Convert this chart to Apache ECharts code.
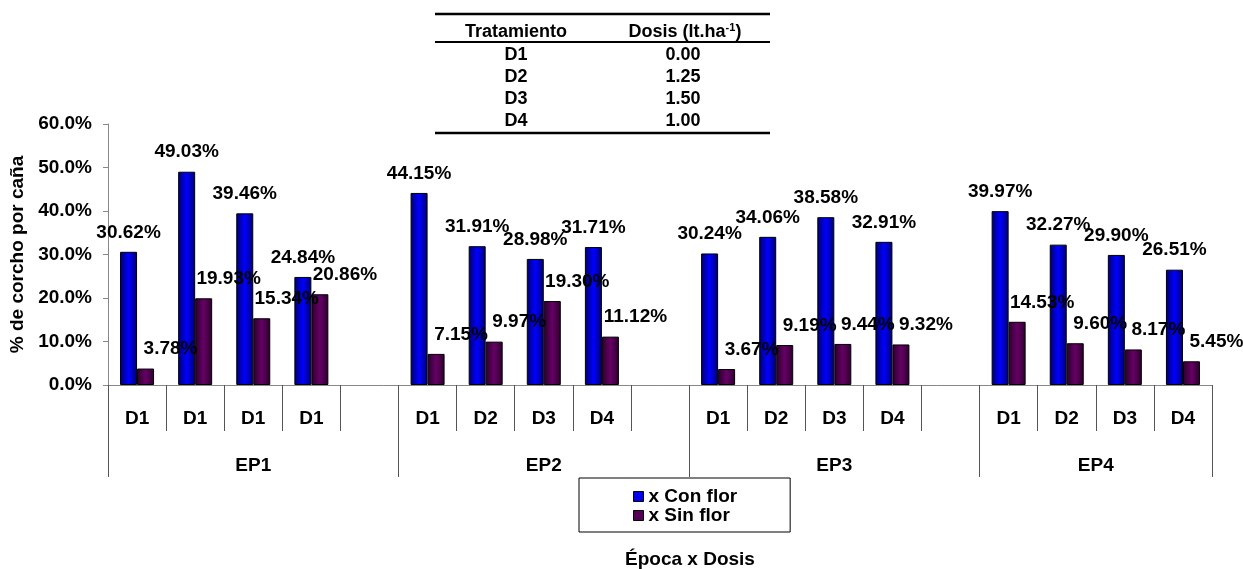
<!DOCTYPE html>
<html>
<head>
<meta charset="utf-8">
<script src="https://cdn.jsdelivr.net/npm/echarts@6/dist/echarts.min.js"></script>
<style>
html,body{margin:0;padding:0;background:#fff;}
#chart{width:1243px;height:569px;}
</style>
</head>
<body>
<div id="chart"></div>
<script>
// ---- data ----
var categories = ['D1','D1','D1','D1','', 'D1','D2','D3','D4','', 'D1','D2','D3','D4','', 'D1','D2','D3','D4'];
var groupNames = ['EP1','EP2','EP3','EP4'];
var groupSizes = [5, 5, 5, 4];
var conFlor = [30.62, 49.03, 39.46, 24.84, null, 44.15, 31.91, 28.98, 31.71, null, 30.24, 34.06, 38.58, 32.91, null, 39.97, 32.27, 29.90, 26.51];
var sinFlor = [3.78, 19.93, 15.34, 20.86, null, 7.15, 9.97, 19.30, 11.12, null, 3.67, 9.19, 9.44, 9.32, null, 14.53, 9.60, 8.17, 5.45];
var seriesNames = ['x Con flor', 'x Sin flor'];
var yTicks = [0, 10, 20, 30, 40, 50, 60];
var tableTreatments = ['D1','D2','D3','D4'];
var tableDoses = ['0.00','1.25','1.50','1.00'];

var FONT = 'Liberation Sans, Arial, sans-serif';

// group boundaries / centres (in slot units) for the second-level axis
var groupBounds = [0];
groupSizes.forEach(function (s) { groupBounds.push(groupBounds[groupBounds.length - 1] + s); });
var groupCenters = groupSizes.map(function (s, i) { return groupBounds[i] + s / 2; });

function grad(edge, mid) {
  return new echarts.graphic.LinearGradient(0, 0, 1, 0, [
    {offset: 0, color: edge}, {offset: 0.5, color: mid}, {offset: 1, color: edge}
  ]);
}

var chart = echarts.init(document.getElementById('chart'), null, {renderer: 'canvas'});

// table graphics
var tbl = [];
var colX = [516, 685];
var rowY0 = 55, rowStep = 22;
var TF = 'bold 18px ' + FONT;
tbl.push({type: 'line', shape: {x1: 435, y1: 14, x2: 770, y2: 14}, style: {stroke: '#000', lineWidth: 2.5}});
tbl.push({type: 'line', shape: {x1: 435, y1: 42, x2: 770, y2: 42}, style: {stroke: '#000', lineWidth: 2}});
tbl.push({type: 'line', shape: {x1: 435, y1: 133, x2: 770, y2: 133}, style: {stroke: '#000', lineWidth: 2.5}});
tbl.push({type: 'text', x: colX[0], y: 32, style: {text: 'Tratamiento', font: TF, fill: '#000', textAlign: 'center', textVerticalAlign: 'middle'}});
tbl.push({type: 'text', x: colX[1], y: 32, style: {
  text: '{a|Dosis (lt.ha}{s|-1}{a|)}', textAlign: 'center', textVerticalAlign: 'middle', fill: '#000',
  rich: {a: {font: TF, fill: '#000'}, s: {font: 'bold 11px ' + FONT, fill: '#000', padding: [0, 0, 9, 0]}}
}});
tableTreatments.forEach(function (t, i) {
  tbl.push({type: 'text', x: colX[0], y: rowY0 + i * rowStep, style: {text: t, font: TF, fill: '#000', textAlign: 'center', textVerticalAlign: 'middle'}});
  tbl.push({type: 'text', x: colX[1] - 2, y: rowY0 + i * rowStep, style: {text: tableDoses[i], font: TF, fill: '#000', textAlign: 'center', textVerticalAlign: 'middle'}});
});
tbl.push({type: 'text', x: 690, y: 560, style: {text: 'Época x Dosis', font: 'bold 19px ' + FONT, fill: '#000', textAlign: 'center', textVerticalAlign: 'middle'}});

var labelBase = {show: true, position: 'top', fontFamily: FONT, fontWeight: 'bold', fontSize: 19, color: '#000',
  formatter: function (p) { return p.value == null ? '' : p.value.toFixed(2) + '%'; }};

var option = {
  backgroundColor: '#fff',
  animation: false,
  grid: {left: 108, right: 31, top: 124, bottom: 184, containLabel: false},
  legend: {
    orient: 'vertical', left: 579, top: 478,
    backgroundColor: '#fff', borderColor: '#000', borderWidth: 1,
    padding: [9, 53, 7, 54], itemGap: 0, itemWidth: 10, itemHeight: 10,
    textStyle: {fontFamily: FONT, fontWeight: 'bold', fontSize: 19, color: '#000', lineHeight: 19},
    data: [
      {name: seriesNames[0], icon: 'rect', itemStyle: {color: '#0000ee', borderColor: '#000', borderWidth: 1}},
      {name: seriesNames[1], icon: 'rect', itemStyle: {color: '#550055', borderColor: '#000', borderWidth: 1}}
    ]
  },
  xAxis: [
    {
      type: 'category', data: categories, gridIndex: 0, position: 'bottom',
      axisLine: {show: true, lineStyle: {color: '#888', width: 1}},
      axisTick: {show: true, interval: 0, length: 46, lineStyle: {color: '#555', width: 1}},
      axisLabel: {interval: 0, margin: 24, fontFamily: FONT, fontWeight: 'bold', fontSize: 19, color: '#000'},
      splitLine: {show: false}
    },
    {
      type: 'value', min: 0, max: groupBounds[groupBounds.length - 1], gridIndex: 0, position: 'bottom', offset: 0,
      axisLine: {show: false},
      axisTick: {show: true, length: 92, customValues: groupBounds, lineStyle: {color: '#555', width: 1}},
      axisLabel: {show: true, margin: 71, customValues: groupCenters, fontFamily: FONT, fontWeight: 'bold', fontSize: 19, color: '#000',
        formatter: function (v) { var i = groupCenters.indexOf(v); return i >= 0 ? groupNames[i] : ''; }},
      splitLine: {show: false}
    }
  ],
  yAxis: {
    type: 'value', min: yTicks[0], max: yTicks[yTicks.length - 1], interval: 10,
    name: '% de corcho por caña', nameLocation: 'middle', nameGap: 80, nameRotate: 90,
    nameTextStyle: {fontFamily: FONT, fontWeight: 'bold', fontSize: 19, color: '#000'},
    axisLine: {show: true, lineStyle: {color: '#888', width: 1}},
    axisTick: {show: true, length: 5, lineStyle: {color: '#888'}},
    axisLabel: {margin: 16, fontFamily: FONT, fontWeight: 'bold', fontSize: 19, color: '#000',
      formatter: function (v) { return v.toFixed(1) + '%'; }},
    splitLine: {show: false}
  },
  series: [
    {
      name: seriesNames[0], type: 'bar', xAxisIndex: 0, data: conFlor, barWidth: 17, barGap: '0%',
      itemStyle: {color: grad('#00006e', '#0000ff'), borderColor: '#000', borderWidth: 1},
      label: Object.assign({}, labelBase, {distance: 10})
    },
    {
      name: seriesNames[1], type: 'bar', xAxisIndex: 0, data: sinFlor, barWidth: 17, barGap: '0%',
      itemStyle: {color: grad('#2a002a', '#660066'), borderColor: '#000', borderWidth: 1},
      label: Object.assign({}, labelBase, {distance: 10, offset: [25, 0]})
    }
  ],
  graphic: tbl
};
chart.setOption(option);
</script>
</body>
</html>
